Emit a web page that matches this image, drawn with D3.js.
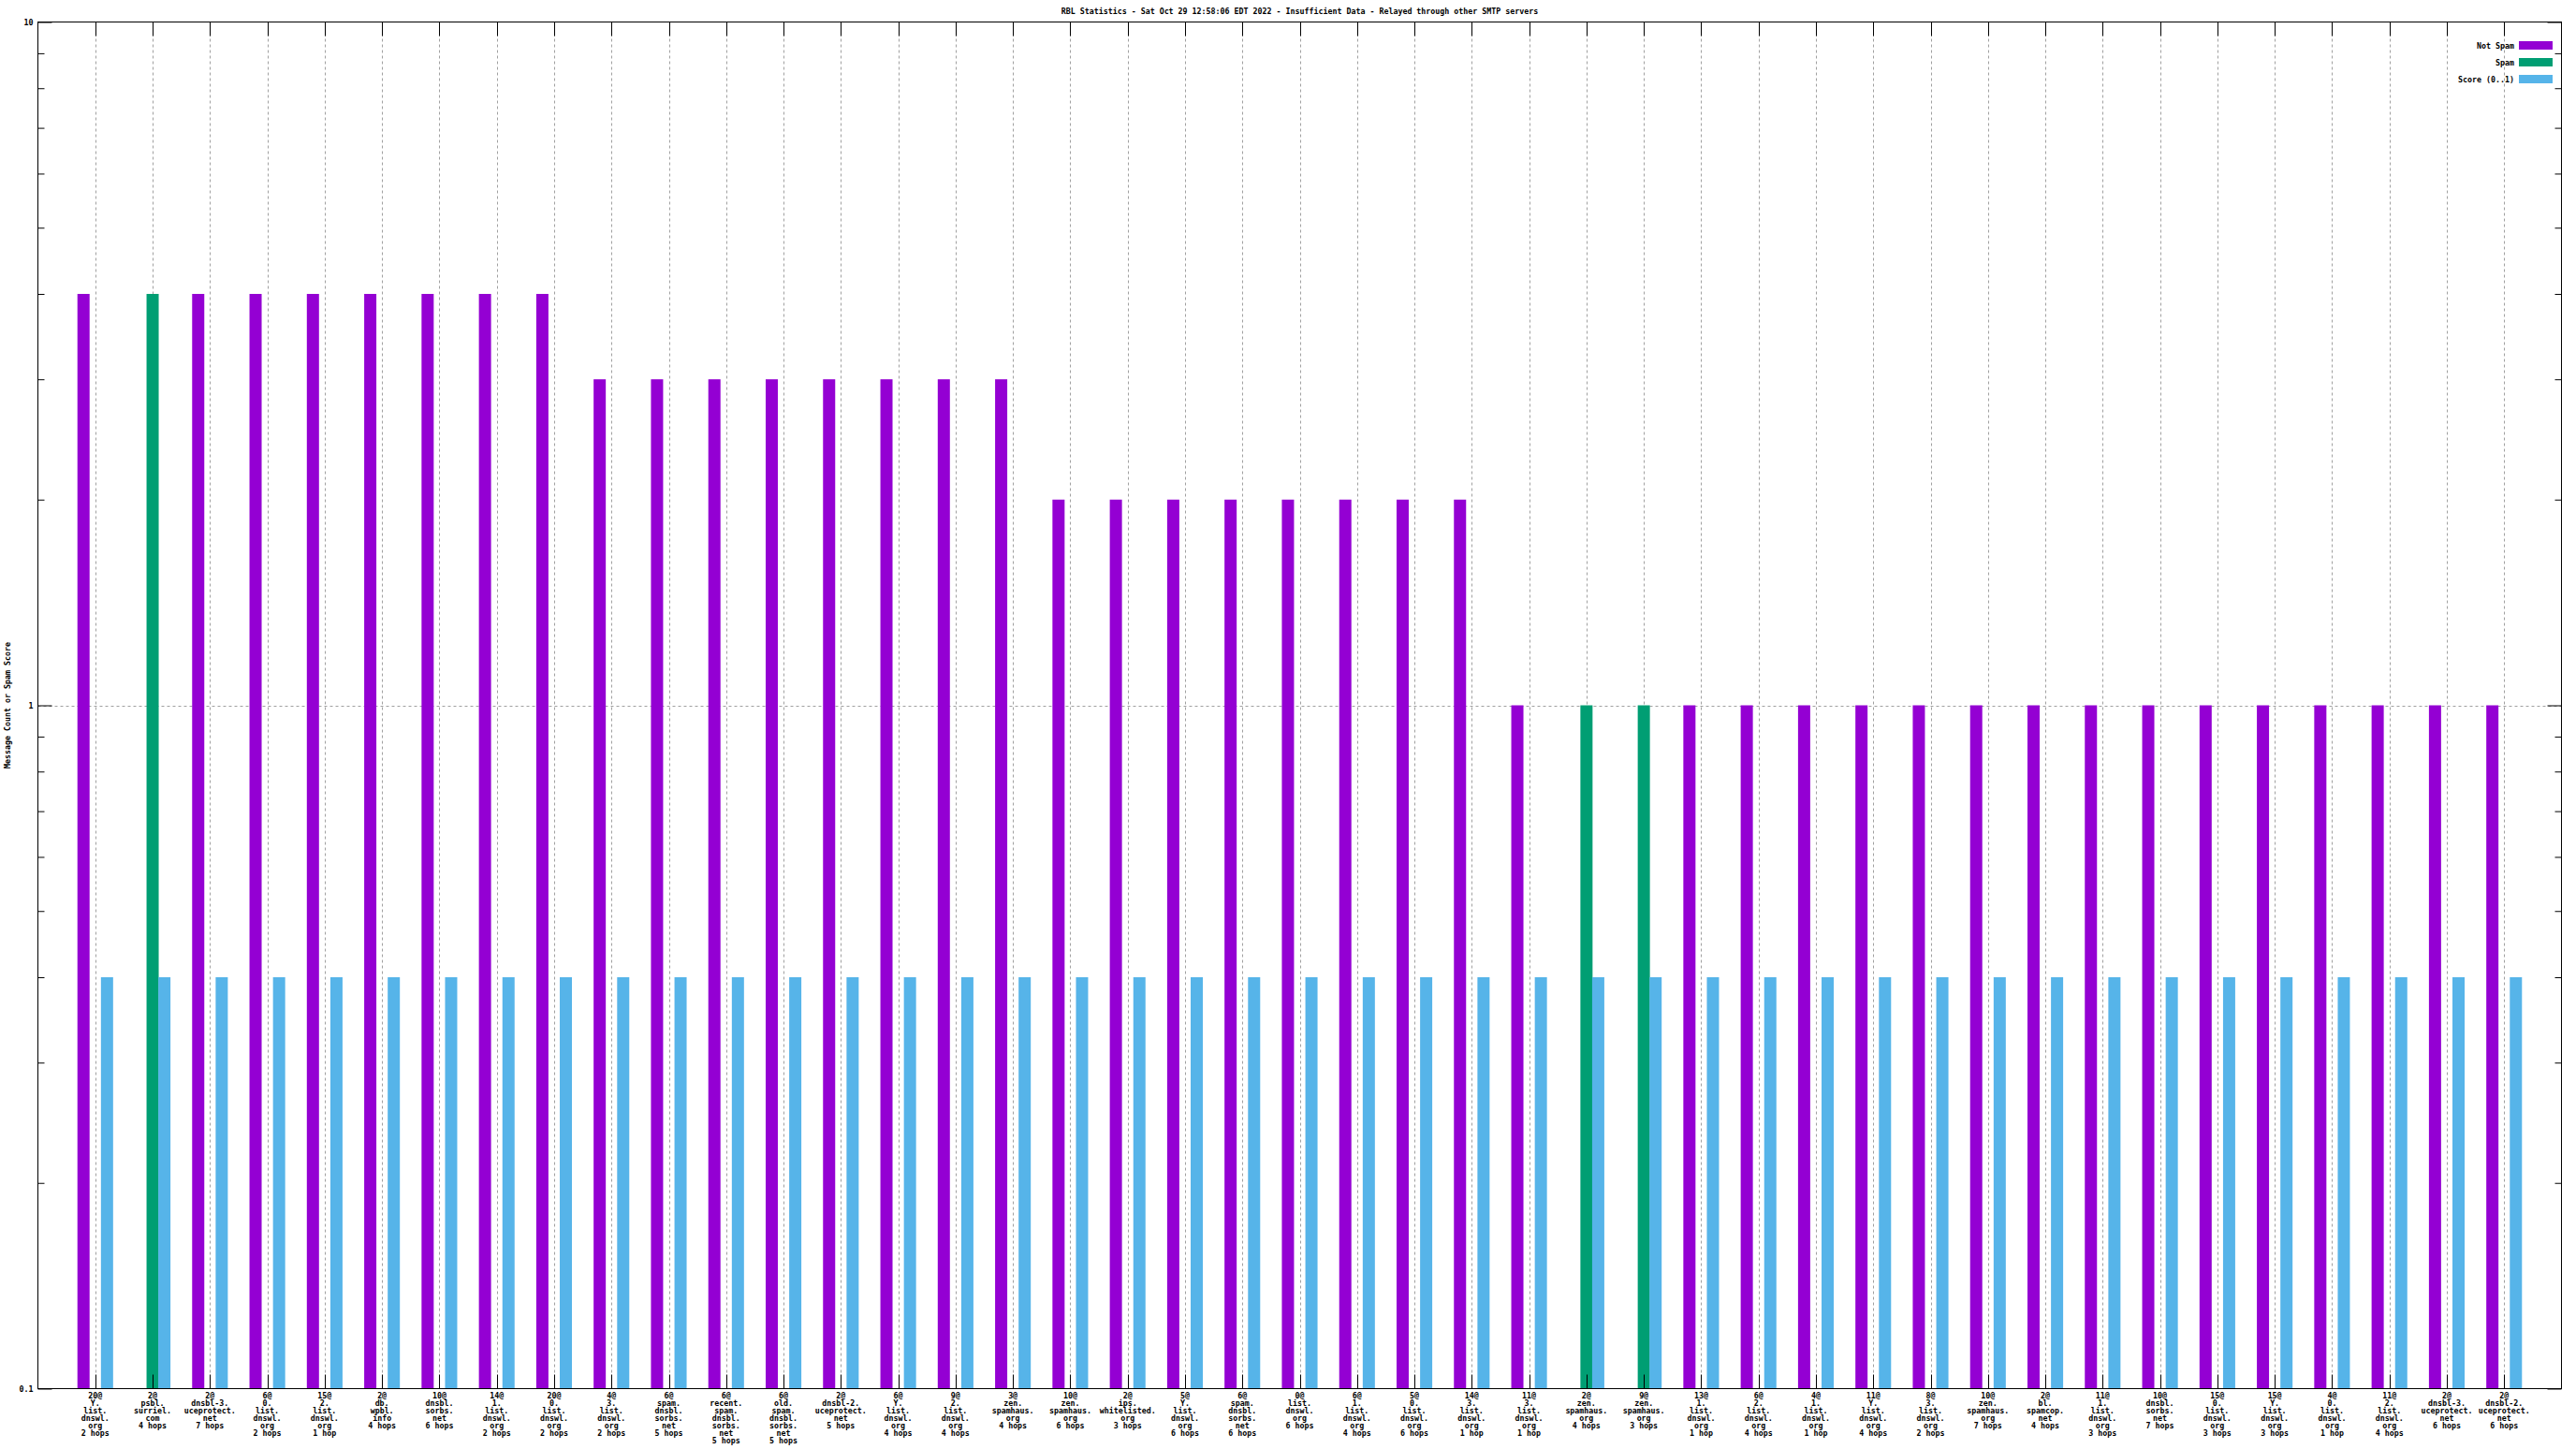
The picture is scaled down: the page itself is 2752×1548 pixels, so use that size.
<!DOCTYPE html>
<html>
<head>
<meta charset="utf-8">
<script src="https://cdn.jsdelivr.net/npm/d3@7"></script>
<style>
  html, body { margin: 0; padding: 0; background: #fff; }
  svg { display: block; }
  text { font-family: "DejaVu Sans Mono", "Liberation Mono", monospace; font-size: 8.3px; font-weight: bold; fill: #000; }
</style>
</head>
<body>
<svg id="chart" width="2752" height="1548"></svg>
<script>
const title = "RBL Statistics - Sat Oct 29 12:58:06 EDT 2022 - Insufficient Data - Relayed through other SMTP servers";
const yLabel = "Message Count or Spam Score";
const seriesNames = ["Not Spam", "Spam", "Score (0..1)"];
const seriesColors = ["#9400d3", "#009e73", "#56b4e9"];

const categories = [
  "20@\nY.\nlist.\ndnswl.\norg\n2 hops",
  "2@\npsbl.\nsurriel.\ncom\n4 hops",
  "2@\ndnsbl-3.\nuceprotect.\nnet\n7 hops",
  "6@\n0.\nlist.\ndnswl.\norg\n2 hops",
  "15@\n2.\nlist.\ndnswl.\norg\n1 hop",
  "2@\ndb.\nwpbl.\ninfo\n4 hops",
  "10@\ndnsbl.\nsorbs.\nnet\n6 hops",
  "14@\n1.\nlist.\ndnswl.\norg\n2 hops",
  "20@\n0.\nlist.\ndnswl.\norg\n2 hops",
  "4@\n3.\nlist.\ndnswl.\norg\n2 hops",
  "6@\nspam.\ndnsbl.\nsorbs.\nnet\n5 hops",
  "6@\nrecent.\nspam.\ndnsbl.\nsorbs.\nnet\n5 hops",
  "6@\nold.\nspam.\ndnsbl.\nsorbs.\nnet\n5 hops",
  "2@\ndnsbl-2.\nuceprotect.\nnet\n5 hops",
  "6@\nY.\nlist.\ndnswl.\norg\n4 hops",
  "9@\n2.\nlist.\ndnswl.\norg\n4 hops",
  "3@\nzen.\nspamhaus.\norg\n4 hops",
  "10@\nzen.\nspamhaus.\norg\n6 hops",
  "2@\nips.\nwhitelisted.\norg\n3 hops",
  "5@\nY.\nlist.\ndnswl.\norg\n6 hops",
  "6@\nspam.\ndnsbl.\nsorbs.\nnet\n6 hops",
  "0@\nlist.\ndnswl.\norg\n6 hops",
  "6@\n1.\nlist.\ndnswl.\norg\n4 hops",
  "5@\n0.\nlist.\ndnswl.\norg\n6 hops",
  "14@\n3.\nlist.\ndnswl.\norg\n1 hop",
  "11@\n3.\nlist.\ndnswl.\norg\n1 hop",
  "2@\nzen.\nspamhaus.\norg\n4 hops",
  "9@\nzen.\nspamhaus.\norg\n3 hops",
  "13@\n1.\nlist.\ndnswl.\norg\n1 hop",
  "6@\n2.\nlist.\ndnswl.\norg\n4 hops",
  "4@\n1.\nlist.\ndnswl.\norg\n1 hop",
  "11@\nY.\nlist.\ndnswl.\norg\n4 hops",
  "8@\n3.\nlist.\ndnswl.\norg\n2 hops",
  "10@\nzen.\nspamhaus.\norg\n7 hops",
  "2@\nbl.\nspamcop.\nnet\n4 hops",
  "11@\n1.\nlist.\ndnswl.\norg\n3 hops",
  "10@\ndnsbl.\nsorbs.\nnet\n7 hops",
  "15@\n0.\nlist.\ndnswl.\norg\n3 hops",
  "15@\nY.\nlist.\ndnswl.\norg\n3 hops",
  "4@\n0.\nlist.\ndnswl.\norg\n1 hop",
  "11@\n2.\nlist.\ndnswl.\norg\n4 hops",
  "2@\ndnsbl-3.\nuceprotect.\nnet\n6 hops",
  "2@\ndnsbl-2.\nuceprotect.\nnet\n6 hops"
];

const notSpam = [4,0,4,4,4,4,4,4,4, 3,3,3,3,3,3,3,3, 2,2,2,2,2,2,2,2, 1,0,0,1,1,1,1,1,1,1,1,1,1,1,1,1,1,1];
const spam    = [0,4,0,0,0,0,0,0,0, 0,0,0,0,0,0,0,0, 0,0,0,0,0,0,0,0, 0,1,1,0,0,0,0,0,0,0,0,0,0,0,0,0,0,0];
const score   = [0.4,0.4,0.4,0.4,0.4,0.4,0.4,0.4,0.4, 0.4,0.4,0.4,0.4,0.4,0.4,0.4,0.4, 0.4,0.4,0.4,0.4,0.4,0.4,0.4,0.4, 0.4,0.4,0.4,0.4,0.4,0.4,0.4,0.4,0.4,0.4,0.4,0.4,0.4,0.4,0.4,0.4,0.4,0.4];

const yMajorTicks = [0.1, 1, 10];
const yMinorTicks = [0.2,0.3,0.4,0.5,0.6,0.7,0.8,0.9,2,3,4,5,6,7,8,9];

const svg = d3.select("#chart");
const L = 40.5, R = 2736.5, T = 23.5, B = 1483.5;

const x = d3.scaleLinear().domain([-1, categories.length]).range([L, R]);
const y = d3.scaleLog().domain([0.1, 10]).range([B, T]);
const unit = x(1) - x(0);

// grid
const grid = svg.append("g").attr("stroke", "#a0a0a0").attr("stroke-width", 1).attr("stroke-dasharray", "3,3");
grid.selectAll("line.v").data(d3.range(categories.length)).join("line")
  .attr("x1", d => Math.round(x(d)) + 0.5).attr("x2", d => Math.round(x(d)) + 0.5)
  .attr("y1", T).attr("y2", B);
grid.append("line").attr("x1", L).attr("x2", R)
  .attr("y1", Math.round(y(1)) + 0.5).attr("y2", Math.round(y(1)) + 0.5);

// bars
const series = [notSpam, spam, score];
const offsets = [-0.205, 0, 0.205];
const bw = 0.212;
series.forEach((vals, si) => {
  svg.append("g").attr("fill", seriesColors[si]).selectAll("rect")
    .data(vals.map((v, i) => ({i, v})).filter(d => d.v > 0))
    .join("rect")
    .attr("x", d => x(d.i + offsets[si] - bw / 2))
    .attr("width", bw * unit)
    .attr("y", d => y(d.v))
    .attr("height", d => y(0.1) - y(d.v));
});

// axes
function styleAxis(g) {
  g.attr("font-family", null).attr("font-size", null);
  g.select(".domain").remove();
  g.selectAll("line").attr("stroke", "#000").attr("stroke-width", 1);
}
svg.append("g").attr("transform", `translate(${L},0)`)
  .call(d3.axisLeft(y).tickValues(yMajorTicks).tickSizeInner(-15).tickSizeOuter(0).tickPadding(5)
    .tickFormat(d => d === 0.1 ? "0.1" : String(d)))
  .call(styleAxis);
svg.append("g").attr("transform", `translate(${L},0)`)
  .call(d3.axisLeft(y).tickValues(yMinorTicks).tickSizeInner(-7).tickSizeOuter(0).tickFormat(""))
  .call(styleAxis);
svg.append("g").attr("transform", `translate(${R},0)`)
  .call(d3.axisRight(y).tickValues(yMajorTicks).tickSizeInner(-15).tickSizeOuter(0).tickFormat(""))
  .call(styleAxis);
svg.append("g").attr("transform", `translate(${R},0)`)
  .call(d3.axisRight(y).tickValues(yMinorTicks).tickSizeInner(-7).tickSizeOuter(0).tickFormat(""))
  .call(styleAxis);

const xb = svg.append("g").attr("transform", `translate(0,${B})`)
  .call(d3.axisBottom(x).tickValues(d3.range(categories.length)).tickSizeInner(-15).tickSizeOuter(0).tickFormat(""))
  .call(styleAxis);
xb.selectAll("g.tick").attr("transform", d => `translate(${Math.round(x(d)) + 0.5},0)`);
svg.append("g").attr("transform", `translate(0,${T})`)
  .call(d3.axisTop(x).tickValues(d3.range(categories.length)).tickSizeInner(-15).tickSizeOuter(0).tickFormat(""))
  .call(styleAxis)
  .selectAll("g.tick").attr("transform", d => `translate(${Math.round(x(d)) + 0.5},0)`);

// x labels (multi-line)
const xl = svg.append("g");
categories.forEach((c, i) => {
  const t = xl.append("text").attr("text-anchor", "middle")
    .attr("x", x(i)).attr("y", B + 10.5);
  c.split("\n").forEach((line, k) => {
    t.append("tspan").attr("x", x(i)).attr("dy", k === 0 ? 0 : 8).text(line);
  });
});

// frame
svg.append("rect").attr("x", L).attr("y", T).attr("width", R - L).attr("height", B - T)
  .attr("fill", "none").attr("stroke", "#000").attr("stroke-width", 1);

// title
svg.append("text").attr("x", (L + R) / 2).attr("y", 15).attr("text-anchor", "middle").text(title);

// y label
svg.append("text").attr("transform", `translate(10.5,${(T + B) / 2}) rotate(-90)`)
  .attr("text-anchor", "middle").text(yLabel);

// legend
const lg = svg.append("g");
seriesNames.forEach((n, i) => {
  const yy = 44 + i * 18;
  lg.append("text").attr("x", 2686).attr("y", yy + 7.5).attr("text-anchor", "end").text(n);
  lg.append("rect").attr("x", 2691).attr("y", yy).attr("width", 36).attr("height", 9).attr("fill", seriesColors[i]);
});
</script>
</body>
</html>
